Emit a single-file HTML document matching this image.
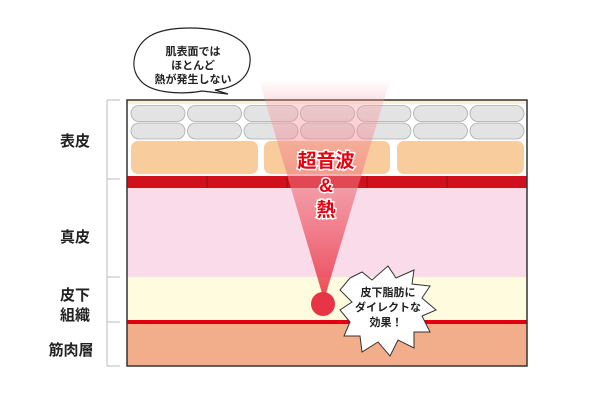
<!DOCTYPE html>
<html><head><meta charset="utf-8"><style>
html,body{margin:0;padding:0;background:#fff;width:600px;height:400px;overflow:hidden}
svg text{font-family:"Liberation Sans","Noto Sans CJK JP",sans-serif;font-weight:bold}
</style></head><body>
<svg width="600" height="400" viewBox="0 0 600 400" xmlns="http://www.w3.org/2000/svg">
<defs>
<linearGradient id="beam" x1="0" y1="0" x2="0" y2="1">
<stop offset="0" stop-color="#f7a0a8" stop-opacity="0"/>
<stop offset="0.12" stop-color="#f5a0a6" stop-opacity="0.4"/>
<stop offset="1" stop-color="#e8283a" stop-opacity="0.85"/>
</linearGradient>
</defs>
<!-- left scale -->
<g stroke="#bbb" stroke-width="1" fill="none">
<line x1="107" y1="100" x2="107" y2="366"/>
<line x1="107" y1="100" x2="120" y2="100"/>
<line x1="107" y1="179" x2="120" y2="179"/>
<line x1="107" y1="277" x2="120" y2="277"/>
<line x1="107" y1="322" x2="120" y2="322"/>
<line x1="107" y1="366" x2="120" y2="366"/>
</g>
<g font-size="15" fill="#222" text-anchor="middle">
<text x="75" y="146">表皮</text>
<text x="75" y="242">真皮</text>
<text x="75" y="300">皮下</text>
<text x="75" y="320">組織</text>
<text x="71" y="355">筋肉層</text>
</g>
<!-- layers -->
<rect x="127" y="100" width="400" height="77" fill="#fdf0d8"/>
<rect x="127" y="104" width="400" height="73" fill="#fff"/>
<g fill="#e3e3e3" stroke="#aaa" stroke-width="0.8">
<rect x="131" y="105.5" width="54" height="16" rx="8"/><rect x="187.5" y="105.5" width="54" height="16" rx="8"/><rect x="244" y="105.5" width="54" height="16" rx="8"/><rect x="300.5" y="105.5" width="54" height="16" rx="8"/><rect x="357" y="105.5" width="54" height="16" rx="8"/><rect x="413.5" y="105.5" width="54" height="16" rx="8"/><rect x="470" y="105.5" width="54" height="16" rx="8"/>
<rect x="131" y="123" width="54" height="16" rx="8"/><rect x="187.5" y="123" width="54" height="16" rx="8"/><rect x="244" y="123" width="54" height="16" rx="8"/><rect x="300.5" y="123" width="54" height="16" rx="8"/><rect x="357" y="123" width="54" height="16" rx="8"/><rect x="413.5" y="123" width="54" height="16" rx="8"/><rect x="470" y="123" width="54" height="16" rx="8"/>
</g>
<g fill="#f8cc9c">
<rect x="131" y="141" width="127" height="33" rx="7"/>
<rect x="264" y="141" width="126" height="33" rx="7"/>
<rect x="397" y="141" width="127" height="33" rx="7"/>
</g>
<rect x="127" y="176" width="400" height="12" fill="#d0101c"/>
<g stroke="#8a0a12" stroke-width="0.8"><line x1="207" y1="176" x2="207" y2="188"/><line x1="287" y1="176" x2="287" y2="188"/><line x1="367" y1="176" x2="367" y2="188"/><line x1="447" y1="176" x2="447" y2="188"/></g>
<rect x="127" y="188" width="400" height="89" fill="#f9dbe9"/>
<rect x="127" y="277" width="400" height="43" fill="#fffbde"/>
<rect x="127" y="320" width="400" height="4" fill="#e00010"/>
<rect x="127" y="324" width="400" height="42" fill="#f2ad8a"/>
<rect x="127" y="100" width="400" height="266" fill="none" stroke="#333" stroke-width="1.5"/>
<!-- beam -->
<polygon points="259,80 390,80 324,300" fill="url(#beam)"/>
<circle cx="323" cy="304" r="12" fill="#e83545"/>
<g font-size="19" fill="#e8000f" stroke="#fff" stroke-width="3" paint-order="stroke" text-anchor="middle">
<text x="326" y="167">超音波</text>
<text x="326" y="192">&amp;</text>
<text x="326" y="216">熱</text>
</g>
<!-- speech bubble -->
<path d="M190,28 C230,28 252,42 250,62 C249,78 235,88 215,90 L228,94 L202,91 C180,95 150,93 140,80 C128,66 135,45 150,36 C160,30 175,28 190,28 Z" fill="#fff" stroke="#222" stroke-width="1.2"/>
<g font-size="11" fill="#222" text-anchor="middle">
<text x="193" y="55">肌表面では</text>
<text x="193" y="69">ほとんど</text>
<text x="193" y="83">熱が発生しない</text>
</g>
<!-- burst -->
<path d="M350,278 L362,272 L372,280 L388,266 L396,278 L414,270 L412,284 L430,286 L422,298 L436,310 L422,316 L430,332 L414,332 L414,348 L398,340 L390,356 L378,342 L362,352 L360,336 L344,336 L350,322 L340,310 L352,302 L340,290 Z" fill="#fff" stroke="#333" stroke-width="1"/>
<g font-size="11" fill="#222" text-anchor="middle">
<text x="388" y="296">皮下脂肪に</text>
<text x="388" y="311">ダイレクトな</text>
<text x="386" y="326">効果！</text>
</g>
</svg>
</body></html>
